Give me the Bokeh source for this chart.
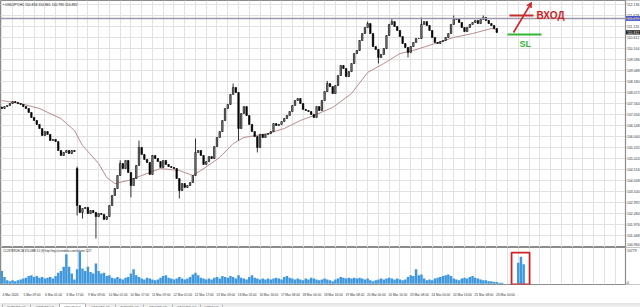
from bokeh.plotting import figure
from bokeh.layouts import column
from bokeh.models import (Range1d, FixedTicker, Label, Span, Arrow, VeeHead, Grid,
                          ColumnDataSource, BoxAnnotation)
from bokeh.embed import file_html
from bokeh.resources import INLINE
from bokeh.core.properties import value

FONT = "Liberation Sans"

# ---------------- data (USDJPY) ----------------
first_open = 107.40
close = [
    107.33, 107.42, 107.47, 107.56, 107.65, 107.61, 107.56, 107.52, 107.42, 107.33,
    107.15, 106.92, 106.78, 106.60, 106.41, 106.09, 106.27, 106.14, 105.86, 105.91,
    105.81, 105.40, 105.17, 105.31, 105.40, 105.26, 105.40, 105.35,
    102.87, 102.55,
    102.73, 102.78, 102.50, 102.64, 102.55, 102.36, 102.50, 102.46, 102.23, 102.36,
    102.87, 103.33, 103.65, 104.25, 104.80, 104.57, 104.94, 104.39, 103.79, 104.11,
    104.71, 105.54, 105.22, 104.99, 104.85, 104.30, 105.17, 105.03, 104.89, 104.62,
    104.94, 104.76, 104.66, 104.62, 104.57, 104.11, 103.56, 103.88, 103.70, 103.79,
    103.93, 104.25, 105.31, 105.40, 105.17, 104.76, 104.89, 105.12, 105.03, 105.58,
    106.00, 106.27, 106.78, 107.33, 107.52, 107.98, 108.30, 108.07, 106.41, 107.10,
    107.42, 107.01, 106.60, 106.27, 106.04, 105.54, 106.14, 106.00, 106.14, 106.18,
    106.27, 106.64, 106.55, 106.60, 106.73, 106.87, 107.01, 107.19, 107.47, 107.70,
    107.79, 107.56, 107.29, 107.24, 107.19, 107.06, 106.92, 107.42, 107.24, 107.70,
    108.11, 108.48, 108.34, 108.02, 108.39, 108.85, 109.31, 109.17, 108.80, 109.03,
    109.40, 109.86, 110.00, 110.46, 110.78, 111.06, 111.24, 110.78, 110.18, 110.05,
    109.68, 109.82, 110.09, 110.69, 111.20, 111.33, 111.10, 110.92, 110.64, 110.32,
    110.14, 109.91, 110.18, 110.37, 110.55, 110.55, 111.20, 111.33, 111.15, 110.92,
    110.60, 110.37, 110.32, 110.41, 110.46, 110.60, 110.78, 111.20, 111.43, 111.47,
    111.29, 111.06, 110.87, 111.06, 111.20, 111.29, 111.38, 111.24, 111.43, 111.52,
    111.38, 111.24, 111.15, 111.01, 110.83,
]
gap_open = {28: 104.57}
wick_high = {28: 104.66, 44: 104.95, 51: 105.86, 72: 105.95, 86: 108.48, 121: 108.60,
             136: 111.33, 145: 111.47, 156: 111.52, 168: 111.61, 179: 111.61}
wick_low = {28: 102.41, 30: 102.27, 35: 101.35, 48: 103.24, 66: 103.19, 88: 105.86,
            95: 105.31, 140: 109.40, 151: 109.68}

ma_idx = [0, 7, 14, 22, 27, 30, 36, 39, 42, 47, 52, 59, 66, 71, 74, 81, 86, 90, 99,
          105, 111, 116, 123, 130, 136, 142, 148, 153, 161, 168, 175, 182, 184]
ma_val = [107.70, 107.56, 107.33, 106.87, 106.32, 105.63, 104.80, 104.16, 103.88, 104.02,
          104.25, 104.57, 104.48, 104.25, 104.48, 105.08, 105.72, 106.00, 106.18, 106.41,
          106.78, 107.01, 107.38, 108.02, 108.99, 109.40, 109.86, 110.00, 110.32, 110.60,
          110.78, 111.01, 110.97]

volume = [
    4050, 2160, 1080, 810, 1080, 810, 1080, 1350, 1620, 1890,
    2430, 2700, 2160, 2430, 1890, 2160, 1620, 1890, 2160, 1620,
    2430, 3510, 4050, 5400, 9450, 5400, 3240, 1350, 4590, 10260,
    4860, 4050, 5400, 3780, 3240, 6480, 4050, 3240, 3510, 2430,
    2700, 1890, 1620, 2160, 1620, 1350, 1890, 2160, 3240, 4590,
    2700, 2160, 1620, 1350, 1890, 1620, 1350, 1080, 1350, 1890,
    2430, 2700, 1890, 1620, 1350, 1620, 2160, 1620, 1350, 1620,
    2160, 2970, 3510, 2700, 1890, 1620, 1350, 1620, 1350, 1890,
    2160, 1620, 2430, 2160, 1890, 2430, 2160, 1620, 2700, 1890,
    1620, 1350, 2160, 2700, 1890, 1620, 1350, 1620, 1350, 1620,
    1350, 1620, 1890, 1620, 1350, 2160, 2430, 1890, 1620, 1350,
    1620, 1350, 1080, 1620, 1350, 1890, 1620, 1350, 1080, 1350,
    1620, 1350, 1080, 810, 1350, 1620, 2160, 1890, 1620, 1890,
    1620, 1890, 1620, 1890, 1620, 1350, 1620, 1080, 810, 1080,
    1350, 1620, 1350, 1620, 1890, 1620, 1350, 1620, 1350, 1080,
    1350, 2160, 2700, 2430, 4590, 2700, 2970, 1620, 1080, 1350,
    1080, 1620, 1890, 2160, 2430, 2700, 2970, 2430, 1620, 1350,
    1080, 1620, 1890, 1620, 2160, 2430, 1890, 1620, 1350, 1080,
    1080, 810, 810, 540, 540, 270, 270, 0, 0, 0,
    0, 0, 6750, 8640, 6210,
]
vol_ticks = [0, 10779]

price_ticks = [100.960, 101.468, 101.976, 102.484, 102.992, 103.500, 104.008, 104.516,
               105.024, 105.532, 106.040, 106.548, 107.056, 107.564, 108.072, 108.580,
               109.088, 109.596, 110.104, 110.612, 111.120, 111.628, 112.136]

date_tick_bars = [0, 8, 16, 24, 32, 40, 48, 56, 64, 72, 80, 88, 96, 104, 112, 120,
                  128, 136, 144, 152, 160, 168, 176, 184]
date_labels = ["4 Mar 2020", "5 Mar 09:00", "6 Mar 01:00", "6 Mar 17:00", "9 Mar 09:00",
               "10 Mar 01:00", "10 Mar 17:00", "11 Mar 09:00", "12 Mar 01:00", "12 Mar 17:00",
               "13 Mar 09:00", "16 Mar 01:00", "16 Mar 16:00", "17 Mar 08:00", "18 Mar 00:00",
               "18 Mar 16:00", "19 Mar 08:00", "20 Mar 00:00", "20 Mar 16:00", "23 Mar 08:00",
               "24 Mar 00:00", "24 Mar 16:00", "25 Mar 08:00", "26 Mar 00:00"]

level_price = 111.47
bid_price = 110.832
tag_prices = [level_price, bid_price]
tag_colors = ["#2430c8", "#111111"]
title_text = "\u25aa USDJPY,H1  110.834 110.861 110.785 110.832"
indicator_text = "CLUSTERDELTA VOLUME 3.0 (8) http://my.clusterdelta.com/volume 1227"
tab_names = ["EURUSD,H1", "GBPUSD,H1", "USDJPY,H1", "USDCAD,H1", "AUDUSD,H1",
             "XAUUSD,H1", "XAGUSD,H4", "USDX,H1"]
active_tab = 2

# ---------------- derived candle table ----------------
n = len(close)
opens = [first_open] + close[:-1]
for i, o in gap_open.items():
    opens[i] = o
highs = [max(o, c) for o, c in zip(opens, close)]
lows = [min(o, c) for o, c in zip(opens, close)]
for i, h in wick_high.items():
    highs[i] = h
for i, l in wick_low.items():
    lows[i] = l
src = ColumnDataSource(dict(
    x=list(range(n)), open=opens, close=close, high=highs, low=lows,
    top=[max(o, c) for o, c in zip(opens, close)],
    bottom=[min(o, c) for o, c in zip(opens, close)],
    fill=["#8a8a8a" if c > o else "black" for o, c in zip(opens, close)],
))

GRID = "#e2e2e2"
FRAME = "#8c8c8c"
PANE_H = 247
VOL_H = 44
TAB_H = 8
PX_PER_BAR = 2.69
X0 = -0.483                      # bar units at the left edge
X1 = X0 + 640 / PX_PER_BAR       # bar units at the right edge of the window
AXIS_X = X0 + 625 / PX_PER_BAR   # value-scale strip starts here (bar units)
Y_LO, Y_HI = 100.938, 112.30
V_LO, V_HI = -270, 11610
PAD_X = X0 + 2.5 / PX_PER_BAR    # left padding for pane captions


def scale_strip(p, lo, hi):
    """White strip on the right of a pane that holds its value scale."""
    p.quad(left=[AXIS_X], right=[X1 + 1], bottom=[lo], top=[hi],
           fill_color="white", line_color=None)
    p.add_layout(Span(location=AXIS_X, dimension="height", line_color=FRAME,
                      line_width=1.2))


def scale_labels(p, ticks, labels, offsets):
    p.segment(x0=[AXIS_X] * len(ticks), y0=ticks, x1=[AXIS_X + 0.35] * len(ticks),
              y1=ticks, line_color="#808080", line_width=0.8)
    p.text(x=[AXIS_X + 0.55] * len(ticks), y=ticks, text=labels, y_offset=offsets,
           text_font=value(FONT), text_font_size="3.5px", text_baseline="middle",
           text_align="left", text_color="#333333")


# ---------------- main price pane ----------------
p1 = figure(width=640, height=PANE_H, x_range=Range1d(X0, X1), y_range=Range1d(Y_LO, Y_HI),
            output_backend="svg", toolbar_location=None, x_axis_location=None,
            y_axis_location=None, min_border=0)
p1.grid.visible = False
p1.outline_line_color = FRAME
p1.outline_line_width = 1.2
p1.background_fill_color = "white"
p1.border_fill_color = "white"

p1.add_layout(Grid(dimension=0, ticker=FixedTicker(ticks=list(range(0, 232, 4))),
                   grid_line_color=GRID))
p1.add_layout(Grid(dimension=1, ticker=FixedTicker(ticks=price_ticks), grid_line_color=GRID))

p1.line(ma_idx, ma_val, line_color="#b88c8c", line_width=1)
p1.segment(x0="x", y0="low", x1="x", y1="high", source=src, line_color="black",
           line_width=0.8)
p1.vbar(x="x", width=0.55, top="top", bottom="bottom", source=src, fill_color="fill",
        line_color="black", line_width=0.6)

scale_strip(p1, Y_LO - 1, Y_HI + 1)
p1.add_layout(Span(location=level_price, dimension="width", line_color="#9a9aaa",
                   line_width=1.6))
price_offsets = [-2.2 if v < Y_LO + 0.08 else 0 for v in price_ticks]
scale_labels(p1, price_ticks, [f"{v:.3f}" for v in price_ticks], price_offsets)
p1.quad(left=[AXIS_X + 0.1] * 2, right=[X1] * 2,
        bottom=[v - 0.1 for v in tag_prices], top=[v + 0.1 for v in tag_prices],
        fill_color=tag_colors, line_color=None)
p1.text(x=[AXIS_X + 0.55] * 2, y=tag_prices, text=[f"{v:.3f}" for v in tag_prices],
        text_font=value(FONT), text_font_size="3.5px", text_baseline="middle",
        text_align="left", text_color="white")

# pane caption
p1.text(x=[PAD_X], y=[Y_HI], y_offset=[2], text=[title_text], text_font=value(FONT),
        text_font_size="3.5px", text_baseline="top", text_align="left",
        text_color="#222222")

# hand-drawn trade annotations (screen units inside the pane)
RED = "#d02626"
GREEN = "#35b535"
p1.add_layout(Arrow(x_start=513, y_start=PANE_H - 32, x_end=531, y_end=PANE_H - 2,
                    start_units="screen", end_units="screen", line_color=RED,
                    line_width=1.6, end=VeeHead(size=5, line_color=RED, fill_color=RED)))
p1.add_layout(Arrow(x_start=509, y_start=PANE_H - 15, x_end=533, y_end=PANE_H - 15,
                    start_units="screen", end_units="screen", line_color="#c03030",
                    line_width=2, end=None))
p1.add_layout(Label(x=536, y=PANE_H - 15, x_units="screen", y_units="screen", text="ВХОД",
                    text_font=FONT, text_font_size="10px", text_font_style="bold",
                    text_color="#cc1f1f", text_baseline="alphabetic"))
p1.add_layout(Arrow(x_start=507, y_start=PANE_H - 34, x_end=541, y_end=PANE_H - 34,
                    start_units="screen", end_units="screen", line_color=GREEN,
                    line_width=2, end=None))
p1.add_layout(Label(x=519, y=PANE_H - 43, x_units="screen", y_units="screen", text="SL",
                    text_font=FONT, text_font_size="9px", text_font_style="bold",
                    text_color=GREEN, text_baseline="alphabetic"))

# ---------------- volume pane ----------------
p2 = figure(width=640, height=VOL_H + 8, x_range=Range1d(X0, X1),
            y_range=Range1d(V_LO, V_HI), output_backend="svg", toolbar_location=None,
            y_axis_location=None, min_border_left=0, min_border_right=0,
            min_border_top=0, min_border_bottom=8)
p2.grid.visible = False
p2.outline_line_color = FRAME
p2.outline_line_width = 1.2
p2.background_fill_color = "white"
p2.border_fill_color = "white"
p2.add_layout(Grid(dimension=0, ticker=FixedTicker(ticks=list(range(0, 232, 4))),
                   grid_line_color=GRID))

p2.vbar(x=list(range(len(volume))), top=volume, bottom=0, width=0.92,
        fill_color="#3f98dc", line_color=None)
p2.add_layout(BoxAnnotation(left=189.5, right=196.2, bottom=-230, top=9990,
                            fill_alpha=0, line_color="#d0202a", line_alpha=1.0,
                            line_width=1.8))
scale_strip(p2, V_LO - 1000, V_HI + 1000)
scale_labels(p2, vol_ticks, [str(v) for v in vol_ticks], [-1, 0])
p2.text(x=[PAD_X], y=[V_HI], y_offset=[2.5], text=[indicator_text], text_font=value(FONT),
        text_font_size="2.7px", text_baseline="top", text_align="left",
        text_color="#222222")

x2 = p2.xaxis[0]
label_shift = 3.25
date_ticks = [b + label_shift for b in date_tick_bars]
x2.ticker = FixedTicker(ticks=date_ticks)
x2.major_label_overrides = {t: s for t, s in zip(date_ticks, date_labels)}
x2.major_label_text_font_size = "3.2px"
x2.major_label_text_font = FONT
x2.major_label_text_color = "#333333"
x2.major_tick_line_color = None
x2.minor_tick_line_color = None
x2.major_label_standoff = 2
x2.axis_line_color = None

# ---------------- tab strip ----------------
p3 = figure(width=640, height=TAB_H, x_range=Range1d(0, 640), y_range=Range1d(0, TAB_H),
            output_backend="svg", toolbar_location=None, x_axis_location=None,
            y_axis_location=None, min_border=0)
p3.grid.visible = False
p3.outline_line_color = None
p3.background_fill_color = "#eeeeee"
p3.border_fill_color = "#eeeeee"
tab_edges = [2, 30, 59, 85, 115, 143, 172, 200, 222]
p3.quad(left=[tab_edges[active_tab]], right=[tab_edges[active_tab + 1]], bottom=[0.5],
        top=[TAB_H], fill_color="white", line_color="#9a9a9a", line_width=0.8)
p3.segment(x0=tab_edges, y0=[1.2] * len(tab_edges), x1=tab_edges,
           y1=[7.0] * len(tab_edges), line_color="#a8a8a8", line_width=0.8)
p3.segment(x0=[0], y0=[7.8], x1=[640], y1=[7.8], line_color="#c8c8c8", line_width=1)
p3.text(x=[(tab_edges[i] + tab_edges[i + 1]) / 2 for i in range(len(tab_names))],
        y=[TAB_H / 2] * len(tab_names), text=tab_names, text_font=value(FONT),
        text_font_size="3.2px", text_align="center", text_baseline="middle",
        text_color="#444444")
p3.text(x=[633], y=[TAB_H / 2], text=["\u25c2 \u25b8"], text_font=value(FONT),
        text_font_size="3.4px", text_align="center", text_baseline="middle",
        text_color="#666666")

layout = column(p1, p2, p3, spacing=0)
open("out.html", "w").write(file_html(layout, INLINE))
